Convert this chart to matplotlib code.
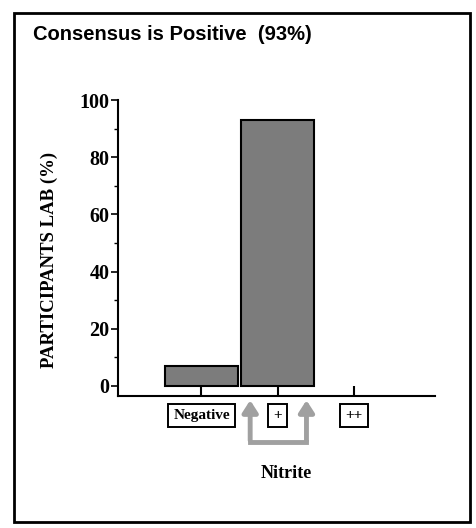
import matplotlib.pyplot as plt
from matplotlib.patches import Rectangle

categories = ["Negative", "+", "++"]
values = [7, 93, 0]
title = "Consensus is Positive  (93%)"

fig = plt.figure(figsize=(4.77, 5.28), dpi=100)

# outer frame round the whole panel
fig.patches.append(Rectangle((0.03, 0.011), 0.955, 0.964, transform=fig.transFigure,
                             fill=False, edgecolor="black", linewidth=2))
fig.text(0.07, 0.925, title, fontsize=14.5, fontweight="bold", family="Liberation Sans")

ax = fig.add_axes([0.247, 0.25, 0.665, 0.5606])
x = range(len(categories))
ax.bar(x, values, width=0.95, color="#7c7c7c", edgecolor="black",
       linewidth=[1.5 if v > 0 else 0 for v in values])

ax.set_xlim(-1.1, 3.07)
ax.set_ylim(-3.5, 100)
ax.set_yticks([0, 20, 40, 60, 80, 100])
ax.set_yticks(range(10, 100, 20), minor=True)
ax.spines["top"].set_visible(False)
ax.spines["right"].set_visible(False)
ax.spines["left"].set_linewidth(1.5)
ax.spines["bottom"].set_linewidth(1.5)
ax.tick_params(axis="y", direction="out", length=5, width=1.2, labelsize=14.5, pad=1)
ax.tick_params(axis="y", which="minor", direction="out", length=3, width=1)
ax.tick_params(axis="x", direction="in", length=7, width=1.5, labelbottom=False)
ax.set_xticks(list(x))
for lab in ax.get_yticklabels():
    lab.set_family("Liberation Serif")
    lab.set_fontweight("bold")
ax.set_ylabel("PARTICIPANTS LAB (%)", family="Liberation Serif", fontweight="bold",
              fontsize=13.5)
ax.yaxis.set_label_coords(-0.19, 0.46)

# boxed category labels under the axis
for i, c in enumerate(categories):
    ax.annotate(c, xy=(i, -3.5), xytext=(0, -14), textcoords="offset points",
                ha="center", va="center", fontsize=11, fontweight="bold",
                family="Liberation Serif",
                bbox=dict(boxstyle="square,pad=0.35", fc="white", ec="black", lw=1.4))

# grey bracket with two arrows pointing at the "+" bar
arrow_color = "#a0a0a0"
for xa in [0.64, 1.38]:
    ax.annotate("", xy=(xa, -4), xytext=(xa, -20), xycoords="data",
                arrowprops=dict(arrowstyle="-|>,head_width=0.45,head_length=0.7",
                                color=arrow_color, lw=3.5), annotation_clip=False)
ax.plot([0.64, 1.38], [-19.5, -19.5], color=arrow_color, lw=3.5, clip_on=False)

fig.text(0.6, 0.095, "Nitrite", ha="center", fontsize=13, fontweight="bold",
         family="Liberation Serif")

fig.savefig("out.png", dpi=100)
